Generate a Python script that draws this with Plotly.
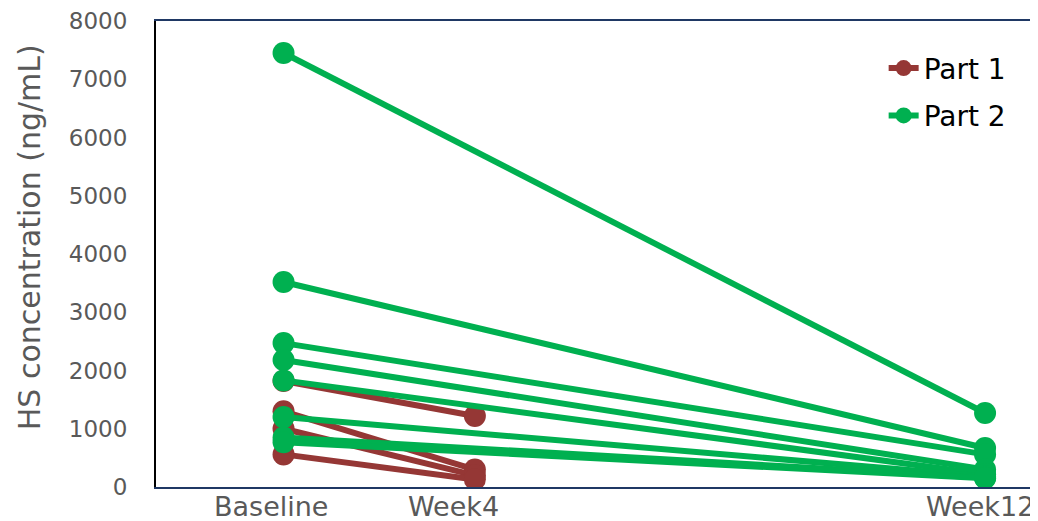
import plotly.graph_objects as go

# Time points (weeks; Baseline placed at week 1 on the axis scale)
time_labels = ["Baseline", "Week4", "Week12"]
part1_x = [1, 4]
part2_x = [1, 12]

# Part 1 patients: Baseline -> Week4 (ng/mL)
part1_values = [
    [1820, 1220],
    [1300, 300],
    [1000, 200],
    [560, 130],
]
# Part 2 patients: Baseline -> Week12 (ng/mL)
part2_values = [
    [7450, 1270],
    [3520, 670],
    [2470, 560],
    [2180, 300],
    [1830, 220],
    [1200, 180],
    [850, 160],
    [770, 150],
]

RED = "#953735"
GREEN = "#00B050"
FONT = "DejaVu Sans"

fig = go.Figure()
for i, vals in enumerate(part1_values):
    fig.add_trace(go.Scatter(
        x=part1_x, y=vals, mode="lines+markers", name="Part 1",
        legendgroup="p1", showlegend=(i == 0),
        line=dict(color=RED, width=6), marker=dict(color=RED, size=22),
    ))
for i, vals in enumerate(part2_values):
    fig.add_trace(go.Scatter(
        x=part2_x, y=vals, mode="lines+markers", name="Part 2",
        legendgroup="p2", showlegend=(i == 0),
        line=dict(color=GREEN, width=6), marker=dict(color=GREEN, size=22),
    ))

label_x = [0.8, 3.67, 11.92]
for lx, txt in zip(label_x, time_labels):
    fig.add_annotation(x=lx, y=-0.041, xref="x", yref="paper", text=txt,
                       showarrow=False, xanchor="center", yanchor="middle",
                       font=dict(family=FONT, size=27, color="#595959"))

fig.add_annotation(x=-0.144, y=0.536, xref="paper", yref="paper",
                   text="HS concentration (ng/mL)", textangle=-90,
                   showarrow=False, xanchor="center", yanchor="middle",
                   font=dict(family=FONT, size=30, color="#595959"))

fig.update_layout(
    width=1030, height=513,
    margin=dict(l=148, r=0, t=13, b=34),
    paper_bgcolor="white", plot_bgcolor="white",
    font=dict(family=FONT, color="#595959"),
    showlegend=True,
    legend=dict(x=0.825, y=0.952, xanchor="left", yanchor="top",
                font=dict(family=FONT, size=28, color="#000000"),
                tracegroupgap=8, bgcolor="rgba(0,0,0,0)"),
    xaxis=dict(range=[-1, 12.83], showgrid=False, zeroline=False,
               showticklabels=False, ticks="",
               showline=True, linecolor="#1F3864", linewidth=2, mirror=True),
    yaxis=dict(range=[0, 8000], tickvals=list(range(0, 8001, 1000)),
               showgrid=False, zeroline=False, ticks="",
               ticklabelstandoff=22,
               tickfont=dict(family=FONT, size=23, color="#595959"),
               showline=True, linecolor="#000000", linewidth=2),
)

fig.write_html("out.html")
